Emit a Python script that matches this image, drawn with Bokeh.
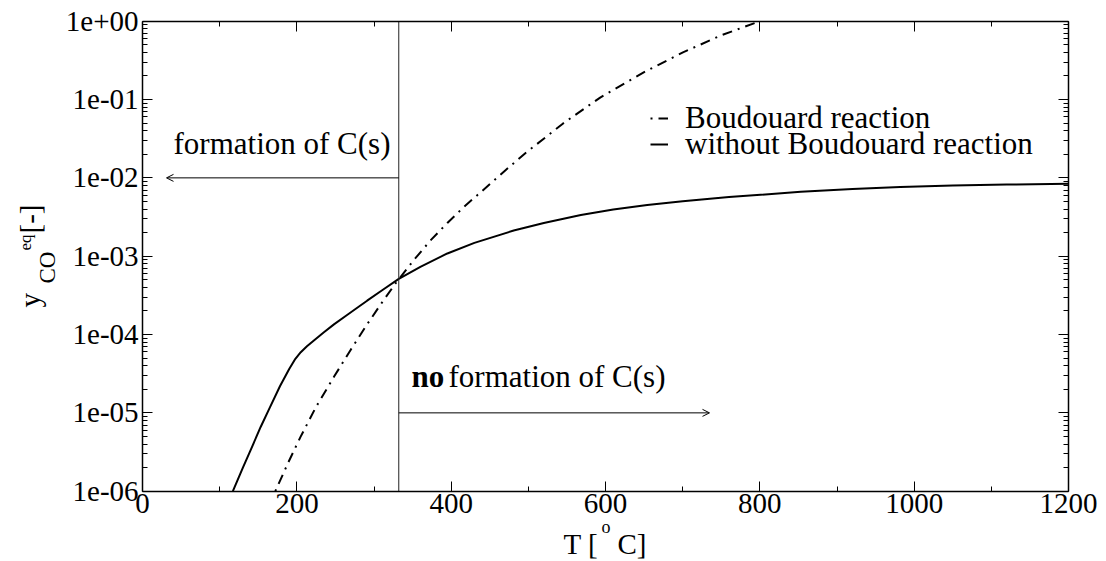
import math
from bokeh.plotting import figure
from bokeh.models import (FixedTicker, CustomJSTickFormatter, LinearAxis, LogAxis,
                          Arrow, OpenHead, Label, Legend, LegendItem, Range1d)
from bokeh.embed import file_html
from bokeh.resources import INLINE

# ---------------- data ----------------
# Boudouard reaction (dash-dot): temperature [deg C] and log10 of y_CO^eq
T_boud = [172, 188, 204.5, 225, 248, 270, 291, 310, 328, 351.5, 373, 395, 417, 438,
          470, 496, 545, 593, 650, 701, 750, 800]
log_y_boud = [-6.0, -5.65, -5.31, -4.92, -4.54, -4.19, -3.87, -3.595, -3.345, -3.05,
              -2.80, -2.575, -2.365, -2.185, -1.905, -1.685, -1.305, -0.975, -0.65,
              -0.395, -0.18, 0.0]

# without Boudouard reaction (solid)
T_noboud = [117, 130, 142, 153, 165, 178, 190, 198, 205, 213, 222, 235, 248, 265, 280,
            291, 310, 332, 360, 395, 430, 481, 520, 568, 610, 654, 700, 760, 853, 920,
            982, 1050, 1120, 1200]
log_y_noboud = [-6.0, -5.70, -5.43, -5.18, -4.93, -4.66, -4.44, -4.31, -4.225, -4.15,
                -4.075, -3.97, -3.87, -3.75, -3.645, -3.568, -3.438, -3.29, -3.135,
                -2.965, -2.83, -2.672, -2.575, -2.475, -2.405, -2.345, -2.298, -2.245,
                -2.178, -2.142, -2.117, -2.098, -2.085, -2.075]

y_boud = [10 ** v for v in log_y_boud]
y_noboud = [10 ** v for v in log_y_noboud]

x_major = [0, 200, 400, 600, 800, 1000, 1200]
x_minor = [100, 300, 500, 700, 900, 1100]
y_major = [1e-6, 1e-5, 1e-4, 1e-3, 1e-2, 1e-1, 1e0]
T_border = 332          # border between formation / no formation of C(s)
y_left_arrow = 1e-2
y_right_arrow = 1e-5

labels = ["Boudouard reaction", "without Boudouard reaction"]

# ---------------- geometry ----------------
W, H = 1106, 561
X0, X1 = 0, 1200
Y0, Y1 = 1e-6, 1.0
BOX_L, BOX_R, BOX_T, BOX_B = 142.1, 1068.0, 20.7, 490.7

def px2x(px):
    return X0 + (px - BOX_L) / (BOX_R - BOX_L) * (X1 - X0)

def py2y(py):
    l0, l1 = math.log10(Y0), math.log10(Y1)
    return 10 ** (l1 - (py - BOX_T) / (BOX_B - BOX_T) * (l1 - l0))

p = figure(width=W, height=H,
           x_range=Range1d(px2x(0), px2x(W)), y_range=Range1d(py2y(H), py2y(0)),
           y_axis_type="log", output_backend="svg", toolbar_location=None,
           min_border=0, x_axis_location=None, y_axis_location=None)
p.grid.visible = False
p.outline_line_color = None
p.background_fill_color = "white"
p.border_fill_color = "white"

FONT = "Liberation Serif"

xt = FixedTicker(ticks=x_major, minor_ticks=x_minor)
y_minor = [m * d for d in y_major[:-1] for m in range(2, 10)]
yt = FixedTicker(ticks=y_major, minor_ticks=y_minor)

yfmt = CustomJSTickFormatter(code="""
var s = tick.toExponential(0);
return s.replace(/e([+-])(\\d)$/, 'e$10$2');
""")
blank = CustomJSTickFormatter(code="return '';")

def style(ax, bounds):
    ax.bounds = bounds
    ax.axis_line_color = "black"
    ax.axis_line_width = 1.5
    ax.major_tick_in = 10
    ax.major_tick_out = 0
    ax.minor_tick_in = 5
    ax.minor_tick_out = 0
    ax.major_tick_line_color = "black"
    ax.minor_tick_line_color = "black"
    ax.major_tick_line_width = 1
    ax.minor_tick_line_width = 1
    ax.major_label_text_font = FONT
    ax.major_label_text_font_size = "29px"
    ax.major_label_text_color = "black"

bottom = LinearAxis(ticker=xt, fixed_location=Y0)
style(bottom, (X0, X1))
bottom.major_label_standoff = 3
top = LinearAxis(ticker=xt, formatter=blank, fixed_location=Y1)
style(top, (X0, X1))
left = LogAxis(ticker=yt, formatter=yfmt, fixed_location=X0)
style(left, (Y0, Y1))
left.major_label_standoff = 4
right = LogAxis(ticker=yt, formatter=blank, fixed_location=X1)
style(right, (Y0, Y1))

p.add_layout(bottom, "below")
p.add_layout(top, "above")
p.add_layout(left, "left")
p.add_layout(right, "right")

# ---------------- curves ----------------
r_boud = p.line(T_boud, y_boud, line_color="black", line_width=2,
                line_dash="10 6 2 6", line_dash_offset=16)
r_noboud = p.line(T_noboud, y_noboud, line_color="black", line_width=2)

# vertical border line
p.segment(x0=[T_border], y0=[Y0], x1=[T_border], y1=[Y1], line_color="#222", line_width=1)

# ---------------- annotations ----------------
p.add_layout(Arrow(end=OpenHead(size=7, line_width=1, line_color="black"),
                   x_start=T_border, y_start=y_left_arrow, x_end=px2x(166), y_end=y_left_arrow,
                   line_width=1, line_color="black"))
p.add_layout(Arrow(end=OpenHead(size=7, line_width=1, line_color="black"),
                   x_start=T_border, y_start=y_right_arrow, x_end=px2x(709), y_end=y_right_arrow,
                   line_width=1, line_color="black"))

K = 0.34  # offset from baseline to the middle line, in em

def lab(text, px, base, size=31, style="normal"):
    """horizontal text; base = baseline in pixels"""
    p.add_layout(Label(x=px2x(px), y=py2y(base - K * size), text=text, text_font=FONT,
                       text_font_size=f"{size}px", text_font_style=style, text_color="black",
                       text_align="left", text_baseline="middle"))

def vlab(text, base_x, start_y, size=29):
    """text rotated 90 deg (reads upwards); base_x = baseline in pixels"""
    p.add_layout(Label(x=px2x(base_x - K * size), y=py2y(start_y), text=text, text_font=FONT,
                       text_font_size=f"{size}px", text_color="black", angle=math.pi / 2,
                       text_align="left", text_baseline="middle"))

lab("formation of C(s)", 173, 154)
lab("no", 411, 387, style="bold")
lab("formation of C(s)", 448, 387)

# axis titles
lab("T [", 563, 553, size=29)
lab("o", 601, 533, size=18)
lab("C]", 617, 553, size=29)

vlab("y", 39, 307, size=29)
vlab("CO", 55, 283, size=23)
vlab("eq", 31, 250, size=17)
vlab("[-]", 39, 233, size=29)

# ---------------- legend ----------------
for i, (txt, r) in enumerate(zip(labels, [r_boud, r_noboud])):
    center_y = 117 + 26 * i
    leg = Legend(items=[LegendItem(label=txt, renderers=[r])],
                 location=(650, H - center_y - 19),
                 padding=0, margin=0, glyph_width=18, glyph_height=20,
                 label_standoff=17, label_text_font=FONT, label_text_font_size="31px",
                 label_text_color="black", background_fill_alpha=0,
                 border_line_alpha=0, spacing=0)
    p.add_layout(leg)

open("out.html", "w").write(file_html(p, INLINE))
